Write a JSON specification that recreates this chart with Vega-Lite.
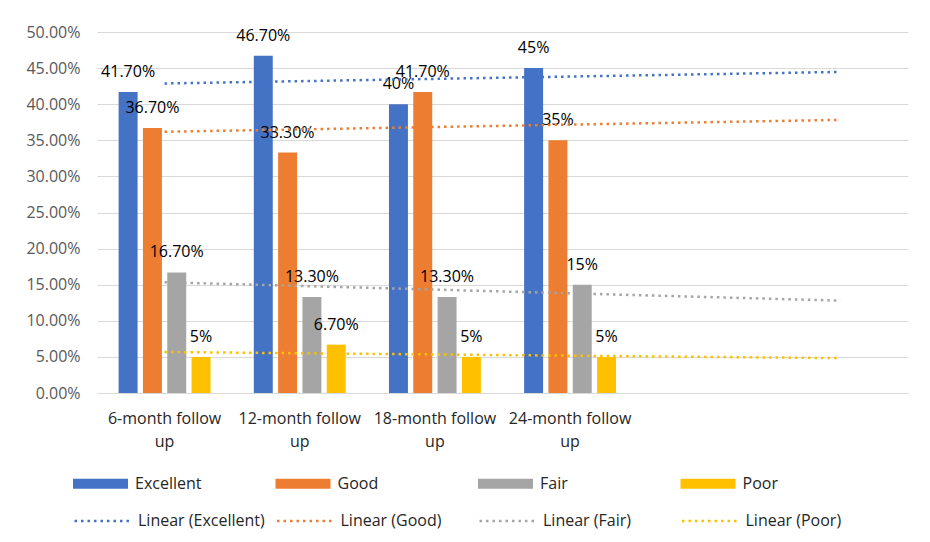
{
  "$schema": "https://vega.github.io/schema/vega-lite/v6.json",
  "autosize": "none",
  "width": 811,
  "height": 361,
  "padding": {"left": 97, "top": 32, "right": 22, "bottom": 149},
  "background": "white",
  "config": {
    "view": {"stroke": null},
    "font": "Open Sans",
    "axis": {"labelFont": "Open Sans", "labelFontSize": 16},
    "legend": {"labelFont": "Open Sans", "labelFontSize": 16}
  },
  "datasets": {
    "ratings": [
      {"period": "6-month follow up", "level": "Excellent", "value": 0.417, "label": "41.70%"},
      {"period": "6-month follow up", "level": "Good", "value": 0.367, "label": "36.70%"},
      {"period": "6-month follow up", "level": "Fair", "value": 0.167, "label": "16.70%"},
      {"period": "6-month follow up", "level": "Poor", "value": 0.05, "label": "5%"},
      {"period": "12-month follow up", "level": "Excellent", "value": 0.467, "label": "46.70%"},
      {"period": "12-month follow up", "level": "Good", "value": 0.333, "label": "33.30%"},
      {"period": "12-month follow up", "level": "Fair", "value": 0.133, "label": "13.30%"},
      {"period": "12-month follow up", "level": "Poor", "value": 0.067, "label": "6.70%"},
      {"period": "18-month follow up", "level": "Excellent", "value": 0.40, "label": "40%"},
      {"period": "18-month follow up", "level": "Good", "value": 0.417, "label": "41.70%"},
      {"period": "18-month follow up", "level": "Fair", "value": 0.133, "label": "13.30%"},
      {"period": "18-month follow up", "level": "Poor", "value": 0.05, "label": "5%"},
      {"period": "24-month follow up", "level": "Excellent", "value": 0.45, "label": "45%"},
      {"period": "24-month follow up", "level": "Good", "value": 0.35, "label": "35%"},
      {"period": "24-month follow up", "level": "Fair", "value": 0.15, "label": "15%"},
      {"period": "24-month follow up", "level": "Poor", "value": 0.05, "label": "5%"}
    ],
    "trends": [
      {"period": "6-month follow up", "series": "Linear (Excellent)", "value": 0.4287},
      {"period": "6", "series": "Linear (Excellent)", "value": 0.4447},
      {"period": "6-month follow up", "series": "Linear (Good)", "value": 0.3618},
      {"period": "6", "series": "Linear (Good)", "value": 0.3783},
      {"period": "6-month follow up", "series": "Linear (Fair)", "value": 0.1534},
      {"period": "6", "series": "Linear (Fair)", "value": 0.1279},
      {"period": "6-month follow up", "series": "Linear (Poor)", "value": 0.0568},
      {"period": "6", "series": "Linear (Poor)", "value": 0.0483}
    ]
  },
  "encoding": {
    "x": {
      "field": "period",
      "type": "nominal",
      "scale": {
        "domain": ["6-month follow up", "12-month follow up", "18-month follow up", "24-month follow up", "5", "6"],
        "paddingInner": 0.32,
        "paddingOuter": 0.16
      },
      "axis": {
        "title": null,
        "ticks": false,
        "domainColor": "#D9D9D9",
        "labelAngle": 0,
        "labelColor": "#262626",
        "labelPadding": 17,
        "labelBaseline": "top",
        "labelLineHeight": 23,
        "labelOverlap": false,
        "labelBound": false,
        "labelLimit": 300,
        "labelExpr": "length(datum.value) > 2 ? [replace(datum.value, ' up', ''), 'up'] : ''"
      }
    },
    "y": {
      "field": "value",
      "type": "quantitative",
      "scale": {"domain": [0, 0.5]},
      "axis": {
        "title": null,
        "format": ".2%",
        "values": [0, 0.05, 0.1, 0.15, 0.2, 0.25, 0.3, 0.35, 0.4, 0.45, 0.5],
        "domain": false,
        "ticks": false,
        "gridColor": "#D9D9D9",
        "labelColor": "#595959",
        "labelPadding": 17
      }
    }
  },
  "layer": [
    {
      "data": {"name": "ratings"},
      "mark": {"type": "bar"},
      "encoding": {
        "xOffset": {
          "field": "level",
          "type": "nominal",
          "scale": {"domain": ["Excellent", "Good", "Fair", "Poor"], "paddingInner": 0.22, "paddingOuter": 0}
        },
        "fill": {
          "field": "level",
          "type": "nominal",
          "scale": {"domain": ["Excellent", "Good", "Fair", "Poor"], "range": ["#4472C4", "#ED7D31", "#A5A5A5", "#FFC000"]},
          "legend": {
            "title": null,
            "orient": "none",
            "legendX": -24,
            "legendY": 424,
            "direction": "horizontal",
            "columns": 4,
            "gridAlign": "all",
            "columnPadding": 73.5,
            "symbolType": "M-1,-0.18L1,-0.18L1,0.18L-1,0.18Z",
            "symbolSize": 3025,
            "symbolStrokeWidth": 0,
            "labelOffset": 7,
            "labelColor": "#262626"
          }
        }
      }
    },
    {
      "data": {"name": "ratings"},
      "mark": {"type": "text", "dy": -20, "baseline": "middle", "fontSize": 16, "color": "#000000"},
      "encoding": {
        "xOffset": {"field": "level", "type": "nominal"},
        "text": {"field": "label", "type": "nominal"}
      }
    },
    {
      "data": {"name": "trends"},
      "mark": {"type": "line", "strokeWidth": 2.5, "strokeDash": [2.5, 4]},
      "encoding": {
        "stroke": {
          "field": "series",
          "type": "nominal",
          "scale": {
            "domain": ["Linear (Excellent)", "Linear (Good)", "Linear (Fair)", "Linear (Poor)"],
            "range": ["#4472C4", "#ED7D31", "#A5A5A5", "#FFC000"]
          },
          "legend": {
            "title": null,
            "orient": "none",
            "legendX": -24,
            "legendY": 460,
            "direction": "horizontal",
            "columns": 4,
            "gridAlign": "all",
            "columnPadding": 6.5,
            "symbolType": "stroke",
            "symbolSize": 3025,
            "symbolStrokeWidth": 2.5,
            "symbolDash": [2.5, 4],
            "labelOffset": 7,
            "labelColor": "#262626"
          }
        }
      }
    }
  ]
}
